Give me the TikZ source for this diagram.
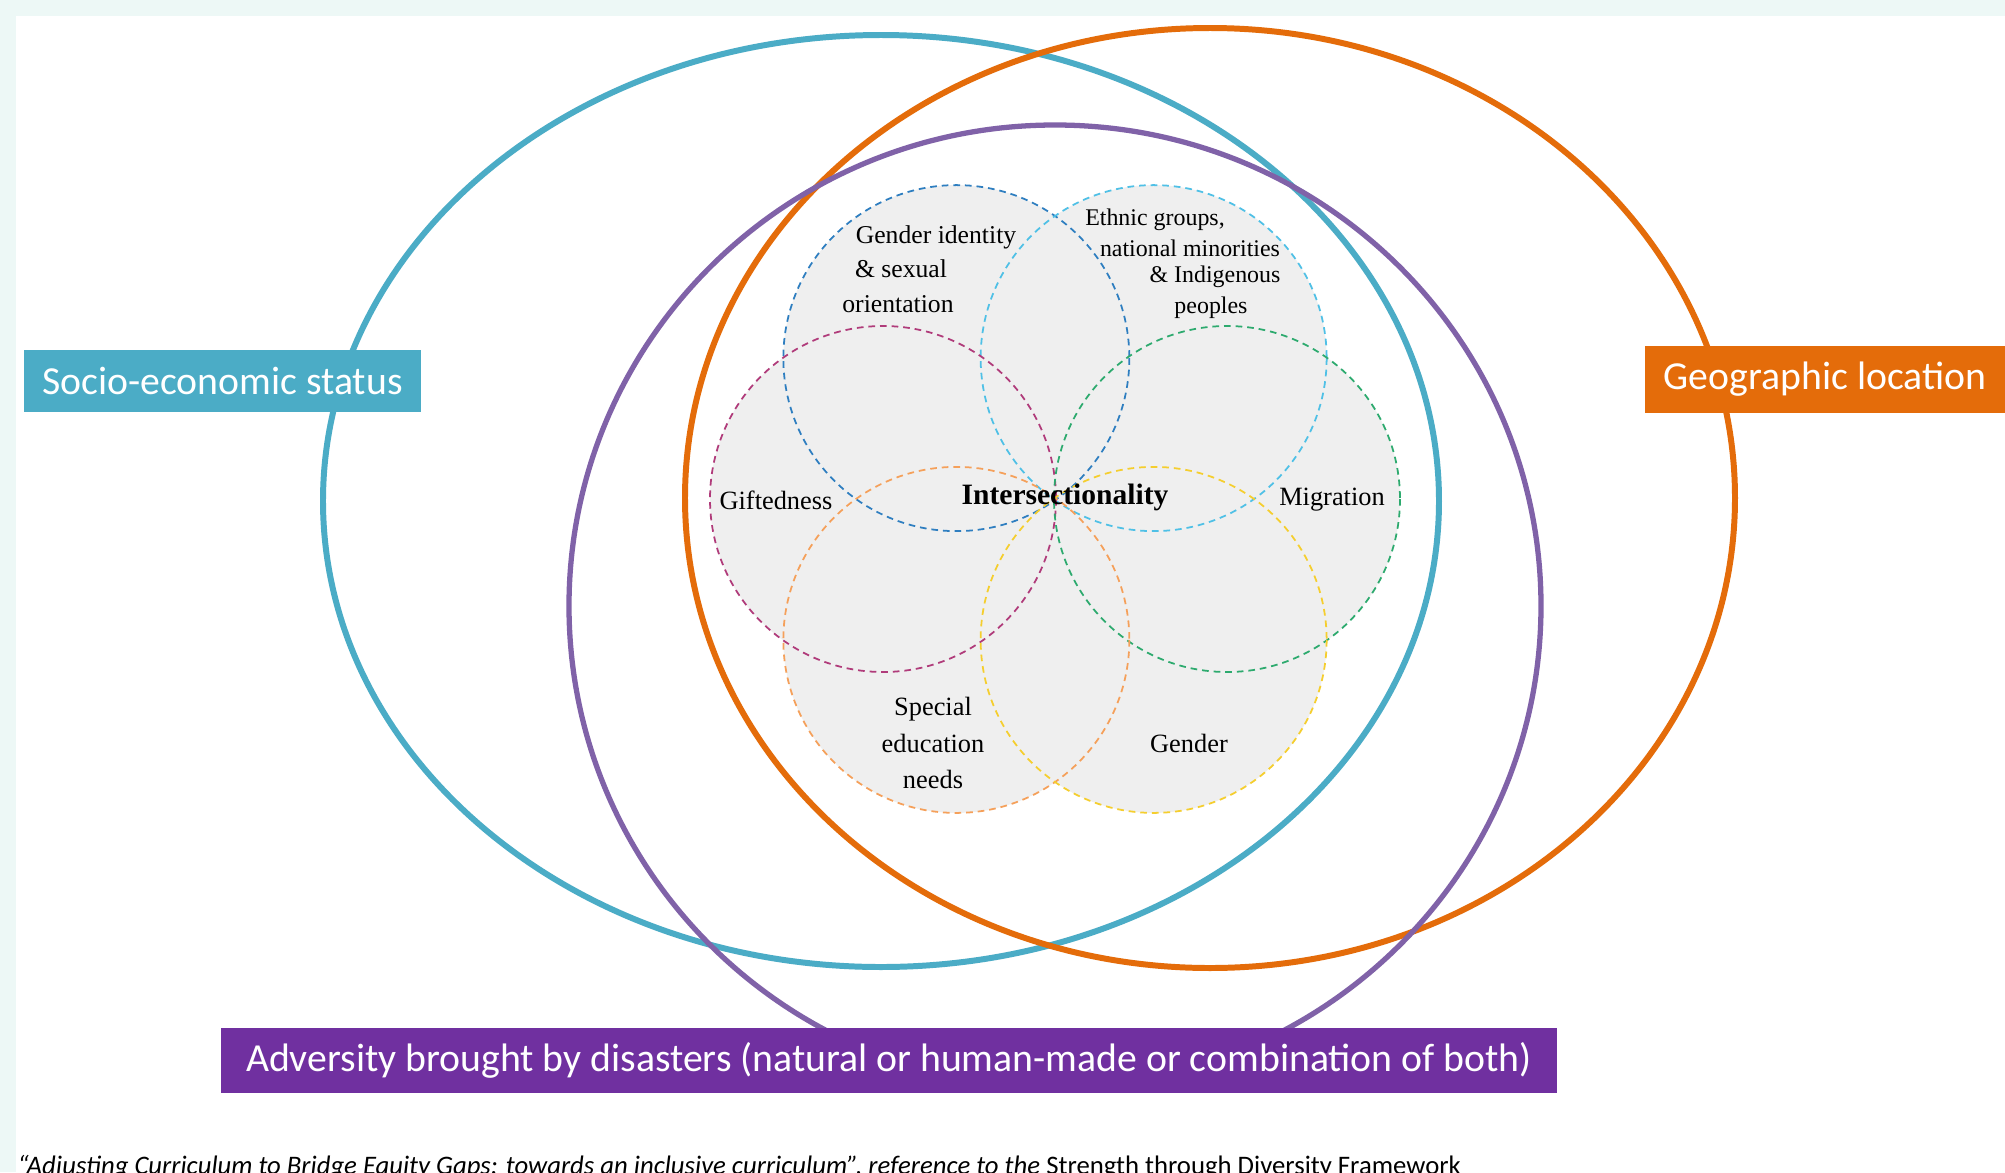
\documentclass[tikz,border=0pt]{standalone}
\usepackage{fontspec}
\setmainfont{Liberation Serif}
\newfontfamily\calib{Carlito}
\usepackage{xcolor}
\usepackage{tikz}

\definecolor{mint}{HTML}{EDF8F6}
\definecolor{petalgrey}{HTML}{EFEFEF}
\definecolor{sesblue}{HTML}{4BACC6}
\definecolor{geoorange}{HTML}{E46C0A}
\definecolor{ringpurple}{HTML}{8062A8}
\definecolor{advpurple}{HTML}{7030A0}
\definecolor{cgid}{HTML}{2E7EC0}
\definecolor{ceth}{HTML}{4FC0E6}
\definecolor{cgif}{HTML}{B03B7A}
\definecolor{cmig}{HTML}{2DAA6E}
\definecolor{csen}{HTML}{F5A05A}
\definecolor{cgen}{HTML}{F5CE2E}

\begin{document}
\begin{tikzpicture}[x=0.01cm,y=-0.01cm,
  ring/.style={line width=1.7pt},
  petal/.style={line width=0.5pt,dash pattern=on 1.9pt off 1.4pt},
  tagbox/.style={fill=#1,text=white,inner sep=0pt,font=\calib\fontsize{11.3}{13}\selectfont},
  lbl/.style={inner sep=0pt,font=\fontsize{7.5}{10.5}\selectfont}]
\useasboundingbox (0,0) rectangle (2005,1172);

% Page
\fill[mint] (0,0) rectangle (2005,1172);
\fill[white] (16,16) rectangle (2005,1172);

% Petals
\coordinate (mid) at (1055,499);
\foreach \a in {-125,-55,180,0,125,55}
  \fill[petalgrey] (mid) ++(\a:172) circle (173);
\foreach \a/\c in {-125/cgid,-55/ceth,180/cgif,0/cmig,125/csen,55/cgen}
  \draw[petal,\c] (mid) ++(\a:172) circle (173);

% Outer rings
\draw[ring,sesblue] (881,501) ellipse [x radius=558,y radius=466];
\draw[ring,geoorange] (1210,498) ellipse [x radius=525,y radius=470];
\draw[ring,ringpurple,line width=1.5pt] (1055,606) ellipse [x radius=486,y radius=481];

% Boxes
\node[tagbox=sesblue,minimum width=3.97cm,minimum height=0.62cm] (ses) at (222.5,381) {Socio-economic status};
\node[tagbox=geoorange,minimum width=3.6cm,minimum height=0.66cm] (geo) at (1825,379.5) {Geographic location};
\node[tagbox=advpurple,minimum width=13.36cm,minimum height=0.65cm] (adv) at (889,1060.5)
  {Adversity brought by disasters (natural or human-made or combination of both)};

% Petal labels
\foreach \x/\y/\l [count=\i] in {936/237/{Gender identity},901/269/{\& sexual},898/304/{orientation}}
  \node[lbl,font=\fontsize{7.3}{9}\selectfont] (gid\i) at (\x,\y) {\l};
\foreach \x/\y/\l [count=\i] in {1155/220/{Ethnic groups,},1190/248/{national minorities},1215/277/{\& Indigenous},1211/308/{peoples}}
  \node[lbl,font=\fontsize{6.8}{8.5}\selectfont] (eth\i) at (\x,\y) {\l};
\node[lbl] (gif) at (776,500) {Giftedness};
\node[lbl] (mig) at (1332,500) {Migration};
\node[lbl,align=center] (sen) at (933,743) {Special\\education\\needs};
\node[lbl] (gen) at (1189,743) {Gender};
\node[lbl,font=\bfseries\fontsize{8.4}{10}\selectfont] (isec) at (1065,497) {Intersectionality};

% Source line
\node[anchor=base west,inner sep=0pt,font=\calib\itshape\fontsize{7.6}{8}\selectfont] (src) at (17,1174)
  {“Adjusting Curriculum to Bridge Equity Gaps: towards an inclusive curriculum”, reference to the {\upshape Strength through Diversity Framework}};
\end{tikzpicture}
\end{document}
